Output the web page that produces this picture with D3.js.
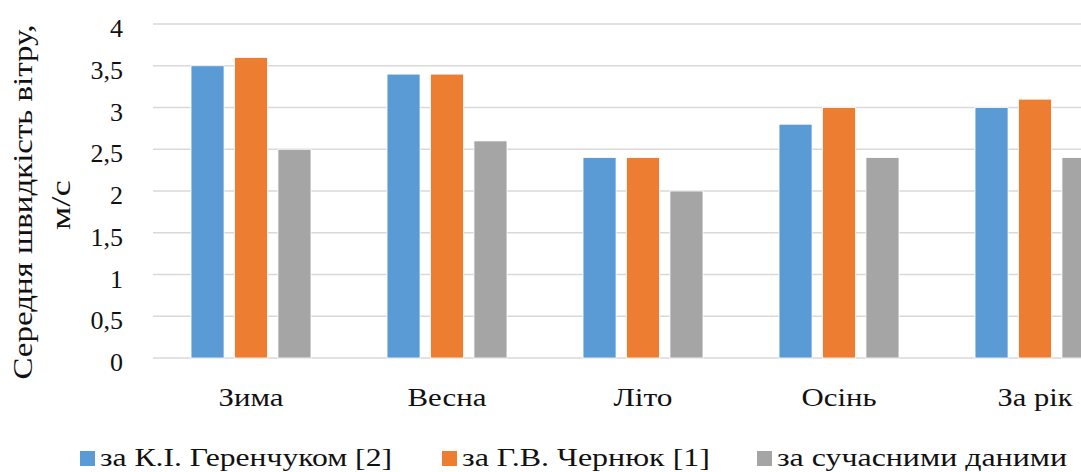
<!DOCTYPE html>
<html>
<head>
<meta charset="utf-8">
<script src="https://cdn.jsdelivr.net/npm/d3@7"></script>
</head>
<body style="margin:0;padding:0;background:#fff;overflow:hidden">
<svg id="chart" width="1081" height="472" style="display:block"></svg>
<script>
const categories = ["Зима", "Весна", "Літо", "Осінь", "За рік"];
const seriesNames = ["за К.І. Геренчуком [2]", "за Г.В. Чернюк [1]", "за сучасними даними"];
const valuesGerenchuk = [3.5, 3.4, 2.4, 2.8, 3.0];
const valuesChernyuk = [3.6, 3.4, 2.4, 3.0, 3.1];
const valuesModern = [2.5, 2.6, 2.0, 2.4, 2.4];
const yTicks = [0, 0.5, 1, 1.5, 2, 2.5, 3, 3.5, 4];
const yTitleLines = ["Середня швидкість вітру,", "м/с"];
const colors = ["#5B9BD5", "#ED7D31", "#A5A5A5"];

const seriesValues = [valuesGerenchuk, valuesChernyuk, valuesModern];
const FONT = "Liberation Serif";
const TXT = "#111";

// layout-only widths of texts (pixels)
const catLabelW = [65, 79, 59, 75, 75];
const titleW = [355, 50];
const legendX = [80, 442, 757];
const legendW = [292, 248, 290];

const svg = d3.select("#chart");

const x0 = d3.scaleBand().domain(categories).range([153, 1133])
  .paddingInner(0.388).paddingOuter(0.194);
const x1 = d3.scaleBand().domain(seriesNames).range([0, x0.bandwidth()])
  .paddingInner(0.24).paddingOuter(0);
const y = d3.scaleLinear().domain([0, 4]).range([358, 24]);

const fmt = v => String(v).replace(".", ",");

// gridlines
svg.append("g").selectAll("line").data(yTicks).join("line")
  .attr("x1", 153).attr("x2", 1081)
  .attr("y1", d => y(d)).attr("y2", d => y(d))
  .attr("stroke", "#D9D9D9").attr("stroke-width", 1.3);

// y tick labels
svg.selectAll("text.ytick").data(yTicks).join("text")
  .attr("class", "ytick")
  .attr("x", 123).attr("y", d => y(d) + 4).attr("dy", "0.35em")
  .attr("text-anchor", "end")
  .attr("font-family", FONT).attr("font-size", 26).attr("fill", TXT)
  .text(fmt);

// bars
const groups = svg.append("g").selectAll("g").data(categories).join("g")
  .attr("transform", d => `translate(${x0(d)},0)`);
groups.selectAll("rect").data((c, i) => seriesNames.map((s, j) => ({ s, j, v: seriesValues[j][i] })))
  .join("rect")
  .attr("x", d => x1(d.s))
  .attr("width", x1.bandwidth())
  .attr("y", d => y(d.v))
  .attr("height", d => y(0) - y(d.v))
  .attr("fill", d => colors[d.j])
  .attr("stroke", "#fff").attr("stroke-width", 0.8);

// category labels
svg.selectAll("text.xcat").data(categories).join("text")
  .attr("class", "xcat")
  .attr("x", d => x0(d) + x0.bandwidth() / 2).attr("y", 406)
  .attr("text-anchor", "middle")
  .attr("font-family", FONT).attr("font-size", 26).attr("fill", TXT)
  .attr("textLength", (d, i) => catLabelW[i]).attr("lengthAdjust", "spacingAndGlyphs")
  .text(d => d);

// y title
svg.selectAll("text.ytitle").data(yTitleLines).join("text")
  .attr("class", "ytitle")
  .attr("transform", (d, i) => `translate(${32 + i * 38},${202 + i * 3}) rotate(-90)`)
  .attr("text-anchor", "middle")
  .attr("font-family", FONT).attr("font-size", 27).attr("fill", TXT)
  .attr("textLength", (d, i) => titleW[i]).attr("lengthAdjust", "spacingAndGlyphs")
  .text(d => d);

// legend
svg.selectAll("rect.lg").data(seriesNames).join("rect")
  .attr("class", "lg")
  .attr("x", (d, i) => legendX[i]).attr("y", 451).attr("width", 15).attr("height", 15)
  .attr("fill", (d, i) => colors[i]);
svg.selectAll("text.lg").data(seriesNames).join("text")
  .attr("class", "lg")
  .attr("x", (d, i) => legendX[i] + 20).attr("y", 466)
  .attr("font-family", FONT).attr("font-size", 26).attr("fill", TXT)
  .attr("textLength", (d, i) => legendW[i]).attr("lengthAdjust", "spacingAndGlyphs")
  .text(d => d);
</script>
</body>
</html>
